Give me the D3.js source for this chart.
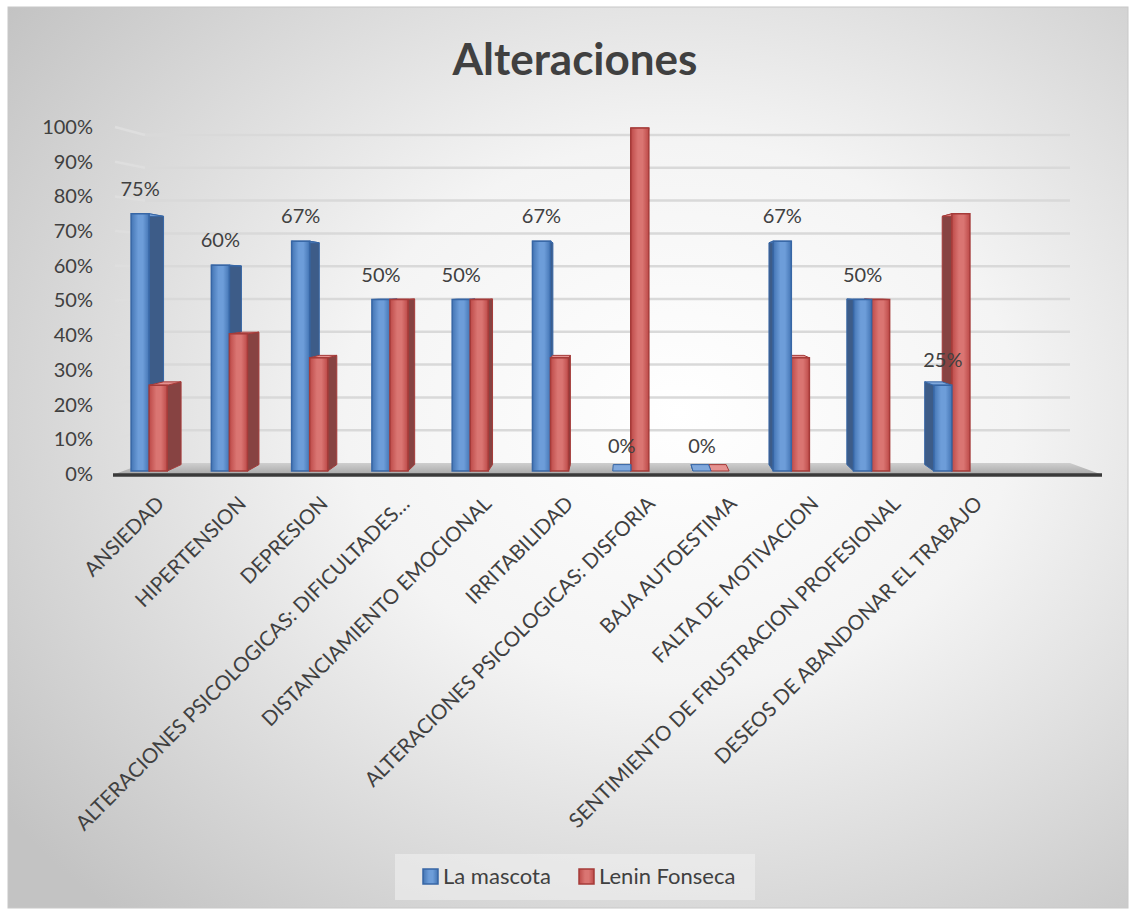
<!DOCTYPE html>
<html lang="es">
<head>
<meta charset="utf-8">
<title>Alteraciones</title>
<script src="https://cdn.jsdelivr.net/npm/d3@7"></script>
<style>
  html, body { margin: 0; padding: 0; background: #ffffff; }
  svg { display: block; font-family: Lato, "Noto Sans", sans-serif; }
</style>
</head>
<body>
<svg id="chart" width="1135" height="911"></svg>
<script>
// ---- data ----
const categories = [
  "ANSIEDAD",
  "HIPERTENSION",
  "DEPRESION",
  "ALTERACIONES PSICOLOGICAS: DIFICULTADES…",
  "DISTANCIAMIENTO EMOCIONAL",
  "IRRITABILIDAD",
  "ALTERACIONES PSICOLOGICAS: DISFORIA",
  "BAJA AUTOESTIMA",
  "FALTA DE MOTIVACION",
  "SENTIMIENTO DE FRUSTRACION PROFESIONAL",
  "DESEOS DE ABANDONAR EL TRABAJO"
];
const laMascota    = [0.75, 0.60, 0.67, 0.50, 0.50, 0.67, 0.00, 0.00, 0.67, 0.50, 0.25];
const leninFonseca = [0.25, 0.40, 0.33, 0.50, 0.50, 0.33, 1.00, 0.00, 0.33, 0.50, 0.75];
const seriesNames  = ["La mascota", "Lenin Fonseca"];
const yTickValues  = [0, 0.1, 0.2, 0.3, 0.4, 0.5, 0.6, 0.7, 0.8, 0.9, 1.0];

const series = [
  { name: seriesNames[0], values: laMascota,    key: "blue" },
  { name: seriesNames[1], values: leninFonseca, key: "red"  }
];

// ---- look ----
const palette = {
  blue: { dark: "#4475b4", light: "#6d9dd9", side: "#3d5c88", top: "#80a8dc", stroke: "#3766a5" },
  red:  { dark: "#bd4a48", light: "#da7572", side: "#874342", top: "#e59290", stroke: "#a53b39" }
};
const textColor = "#404040";
const fontStack = "Lato, 'Noto Sans', sans-serif";

const svg = d3.select("#chart");
const defs = svg.append("defs");

// chart background: soft radial light
const bg = defs.append("radialGradient").attr("id", "bgGrad")
  .attr("cx", 0.6).attr("cy", 0.45).attr("r", 0.75);
bg.append("stop").attr("offset", 0).attr("stop-color", "#ffffff");
bg.append("stop").attr("offset", 0.4).attr("stop-color", "#f4f4f4");
bg.append("stop").attr("offset", 1).attr("stop-color", "#c3c3c3");

const floorGrad = defs.append("linearGradient").attr("id", "floorGrad")
  .attr("x1", 0).attr("y1", 0).attr("x2", 0).attr("y2", 1);
floorGrad.append("stop").attr("offset", 0).attr("stop-color", "#cfcfcf");
floorGrad.append("stop").attr("offset", 1).attr("stop-color", "#a9a9a9");

Object.entries(palette).forEach(([k, c]) => {
  const g = defs.append("linearGradient").attr("id", "front-" + k)
    .attr("x1", 0).attr("y1", 0).attr("x2", 1).attr("y2", 0);
  g.append("stop").attr("offset", 0).attr("stop-color", c.dark);
  g.append("stop").attr("offset", 0.4).attr("stop-color", c.light);
  g.append("stop").attr("offset", 0.65).attr("stop-color", c.light);
  g.append("stop").attr("offset", 1).attr("stop-color", c.dark);
});

svg.append("rect")
  .attr("x", 8).attr("y", 7).attr("width", 1120).attr("height", 901)
  .attr("fill", "url(#bgGrad)").attr("stroke", "#c8c8c8").attr("stroke-width", 1);

// ---- title ----
svg.append("text")
  .attr("x", 575).attr("y", 75)
  .attr("text-anchor", "middle")
  .attr("font-size", 44).attr("font-weight", 700)
  .attr("fill", textColor)
  .text("Alteraciones");

// ---- scales ----
// front edge of the side wall (tick labels), back wall, and bar front faces
const yFront = d3.scaleLinear().domain([0, 1]).range([474, 127]);
const yBack  = d3.scaleLinear().domain([0, 1]).range([463, 135]);
const yBar   = d3.scaleLinear().domain([0, 1]).range([471, 128]);
const ySideBack = v => yBar(v) + 0.8 * (yBack(v) - yBar(v));

const x = d3.scaleBand().domain(categories)
  .range([109, 992]).paddingInner(0.55).paddingOuter(0.275);
const barW = x.bandwidth() / 2;

// category names hang from the front edge of the floor, slightly wider spaced
const xLabel = d3.scalePoint().domain(categories).range([165, 983]);

// simple perspective: receding edges lean toward this x
const vanishX = 630, depthK = 0.03;
const backX = px => px + depthK * (vanishX - px);

// ---- walls and gridlines ----
const wallLeftFront = 115, wallLeftBack = 145, wallRightBack = 1070, floorRightFront = 1100;

const grid = svg.append("g");
yTickValues.forEach(v => {
  grid.append("path")
    .attr("d", `M${wallLeftFront},${yFront(v)}L${wallLeftBack},${yBack(v)}`)
    .attr("fill", "none").attr("stroke", "#dedede").attr("stroke-width", 2.5);
  if (v > 0) {
    grid.append("path")
      .attr("d", `M${wallLeftBack},${yBack(v)}L${wallRightBack},${yBack(v)}`)
      .attr("fill", "none").attr("stroke", "#d9d9d9").attr("stroke-width", 2.5);
  }
});

// floor
svg.append("path")
  .attr("d", `M${wallLeftFront},${yFront(0)}L${wallLeftBack},${yBack(0)}L${wallRightBack},${yBack(0)}L${floorRightFront},${yFront(0)}Z`)
  .attr("fill", "url(#floorGrad)");
svg.append("line")
  .attr("x1", wallLeftFront - 2).attr("x2", floorRightFront + 2)
  .attr("y1", yFront(0) + 1).attr("y2", yFront(0) + 1)
  .attr("stroke", "#3a3a3a").attr("stroke-width", 3.5);

// ---- bars ----
const barsG = svg.append("g");

function drawBar(g, x0, v, c, key) {
  const x1 = x0 + barW;
  const cx = x0 + barW / 2;
  const yt = yBar(v), yb = yBar(0);
  const ytB = ySideBack(v), ybB = ySideBack(0);
  // side face: right side when left of the vanishing line, else left side
  const edge = cx < vanishX ? x1 : x0;
  const ebx = backX(edge);
  g.append("path")
    .attr("d", `M${edge},${yt}L${ebx},${ytB}L${ebx},${ybB}L${edge},${yb}Z`)
    .attr("fill", c.side).attr("stroke", c.stroke).attr("stroke-width", 1).attr("stroke-linejoin", "round");
  // top face
  g.append("path")
    .attr("d", `M${x0},${yt}L${x1},${yt}L${backX(x1)},${ytB}L${backX(x0)},${ytB}Z`)
    .attr("fill", c.top).attr("stroke", c.stroke).attr("stroke-width", 1).attr("stroke-linejoin", "round");
  // front face
  if (v > 0) {
    g.append("rect")
      .attr("x", x0).attr("y", yt).attr("width", barW).attr("height", yb - yt)
      .attr("fill", `url(#front-${key})`).attr("stroke", c.stroke).attr("stroke-width", 1.5);
  }
}

categories.forEach((cat, i) => {
  const gx = x(cat);
  const groupCenter = gx + x.bandwidth() / 2;
  const order = groupCenter < vanishX ? [0, 1] : [1, 0];
  const g = barsG.append("g");
  order.forEach(si => {
    const s = series[si];
    drawBar(g, gx + si * barW, s.values[i], palette[s.key], s.key);
  });
});

// ---- data labels (La mascota) ----
svg.append("g").selectAll("text")
  .data(categories)
  .join("text")
  .attr("x", d => x(d) + barW / 2)
  .attr("y", (d, i) => yBar(laMascota[i]) - 18)
  .attr("text-anchor", "middle")
  .attr("font-size", 20)
  .attr("fill", textColor)
  .text((d, i) => d3.format(".0%")(laMascota[i]));

// ---- y axis ----
const yAxisG = svg.append("g")
  .attr("transform", "translate(93,0)")
  .call(d3.axisLeft(yFront).tickValues(yTickValues).tickFormat(d3.format(".0%")).tickSize(0).tickPadding(0));
yAxisG.select(".domain").remove();
yAxisG.selectAll("text")
  .attr("font-family", fontStack)
  .attr("font-size", 20).attr("fill", textColor);

// ---- x axis (rotated category names) ----
const xAxisG = svg.append("g")
  .attr("transform", "translate(0,505)")
  .call(d3.axisBottom(xLabel).tickSize(0).tickPadding(0));
xAxisG.select(".domain").remove();
xAxisG.selectAll("text")
  .attr("font-family", fontStack)
  .attr("font-size", 20.5).attr("fill", textColor)
  .attr("y", 0).attr("dy", 0)
  .attr("text-anchor", "end")
  .attr("transform", "rotate(-45)");

// ---- legend ----
const legend = svg.append("g");
legend.append("rect")
  .attr("x", 395).attr("y", 854).attr("width", 360).attr("height", 46)
  .attr("fill", "#f0f0f0").attr("opacity", 0.6);
const legendX = [423, 579];
series.forEach((s, i) => {
  const c = palette[s.key];
  legend.append("rect")
    .attr("x", legendX[i]).attr("y", 869).attr("width", 15).attr("height", 15)
    .attr("fill", `url(#front-${s.key})`).attr("stroke", c.stroke).attr("stroke-width", 1.5);
  legend.append("text")
    .attr("x", legendX[i] + 20).attr("y", 884)
    .attr("font-size", 22).attr("fill", textColor)
    .text(s.name);
});
</script>
</body>
</html>
